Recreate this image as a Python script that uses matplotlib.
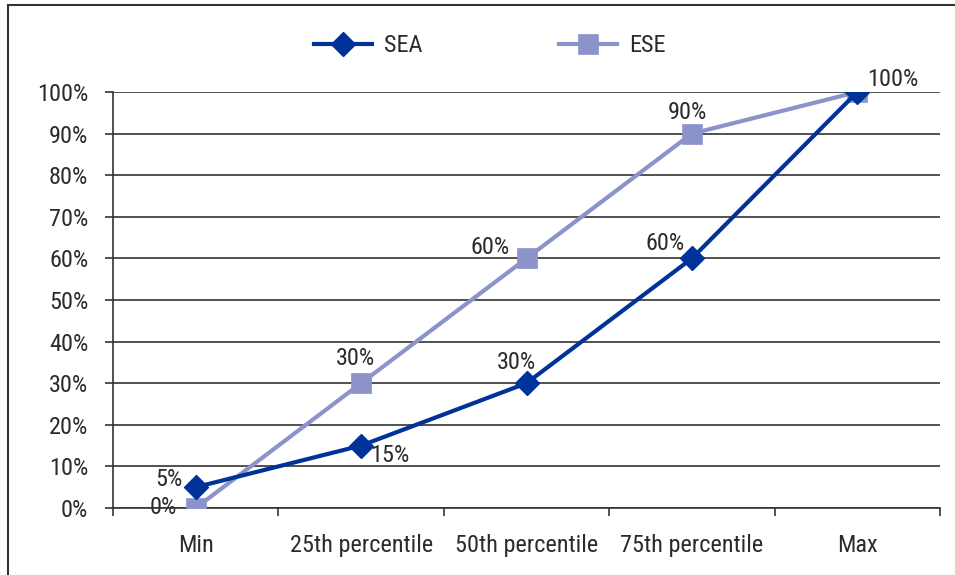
import matplotlib
matplotlib.use("Agg")
import matplotlib.pyplot as plt
from matplotlib.lines import Line2D
from matplotlib.ticker import FixedLocator, PercentFormatter

plt.rcParams['font.family'] = ['Roboto Condensed', 'Archivo Narrow', 'Liberation Sans', 'DejaVu Sans']

categories = ["Min", "25th percentile", "50th percentile", "75th percentile", "Max"]
sea = [0.05, 0.15, 0.30, 0.60, 1.00]
ese = [0.00, 0.30, 0.60, 0.90, 1.00]
sea_labels = ["5%", "15%", "30%", "60%", "100%"]
ese_labels = ["0%", "30%", "60%", "90%", ""]

SEA_C = "#003399"
ESE_C = "#8C93CB"
TXT = "#2b2b2b"
FS = 17.5

fig = plt.figure(figsize=(9.55, 5.75), dpi=100)
ax = fig.add_axes([113/955, 1-508/575, (940-113)/955, (508-92)/575])

x = list(range(len(categories)))
ax.plot(x, ese, color=ESE_C, lw=3.0, marker='s', ms=14, mec=ESE_C, mfc=ESE_C, mew=0.5, label="ESE", zorder=3)
ax.plot(x, sea, color=SEA_C, lw=3.0, marker='D', ms=12.5, mec=SEA_C, mfc=SEA_C, label="SEA", zorder=4)

ax.set_xlim(-0.5, len(categories) - 0.5)
ax.set_ylim(0, 1)
ax.yaxis.set_major_locator(FixedLocator([i/10 for i in range(11)]))
ax.yaxis.set_major_formatter(PercentFormatter(1.0, decimals=0))
ax.grid(axis='y', color='#333333', lw=1.2)
ax.set_axisbelow(True)
ax.tick_params(axis='y', length=8*0.72, width=1.2, color='#333333', labelsize=FS, labelcolor=TXT, pad=12)

ax.xaxis.set_major_locator(FixedLocator([i - 0.5 for i in range(len(categories) + 1)]))
ax.xaxis.set_major_formatter(plt.NullFormatter())
ax.xaxis.set_minor_locator(FixedLocator(x))
ax.set_xticklabels(categories, minor=True)
ax.tick_params(axis='x', which='major', length=8*0.72, width=1.2, color='#333333')
ax.tick_params(axis='x', which='minor', length=0, labelsize=FS, labelcolor=TXT, pad=19)

for s in ['top', 'right']:
    ax.spines[s].set_visible(False)
for s in ['left', 'bottom']:
    ax.spines[s].set_color('#333333')
    ax.spines[s].set_linewidth(1.2)

# data labels (offsets in pixels)
sea_off = [(-27, 8), (29, -10), (-10, 21), (-27, 15), (36, 13)]
ese_off = [(-32, 0), (-6, 25), (-36, 11), (-4, 21), (0, 0)]
for xi, v, lab, (dx, dy) in zip(x, sea, sea_labels, sea_off):
    ax.annotate(lab, (xi, v), xytext=(dx, dy), textcoords='offset pixels', ha='center', va='center',
                fontsize=FS, color=TXT, zorder=6, annotation_clip=False)
for xi, v, lab, (dx, dy) in zip(x, ese, ese_labels, ese_off):
    if lab:
        ax.annotate(lab, (xi, v), xytext=(dx, dy), textcoords='offset pixels', ha='center', va='center',
                    fontsize=FS, color=TXT, zorder=2, annotation_clip=False)

h, l = ax.get_legend_handles_labels()
leg = ax.legend(h[::-1], l[::-1], loc='center', bbox_to_anchor=(490/955, 1-46/575), bbox_transform=fig.transFigure,
                ncol=2, frameon=False, fontsize=FS, handlelength=2.4, handletextpad=0.5, columnspacing=5.6)
for t in leg.get_texts():
    t.set_color(TXT)

# figure border (left and top)
fig.add_artist(Line2D([8/955, 8/955], [0, 1-5/575], transform=fig.transFigure, color='#333333', lw=1.5))
fig.add_artist(Line2D([8/955, 1], [1-5/575, 1-5/575], transform=fig.transFigure, color='#333333', lw=1.5))

fig.savefig("out.png", dpi=100)
